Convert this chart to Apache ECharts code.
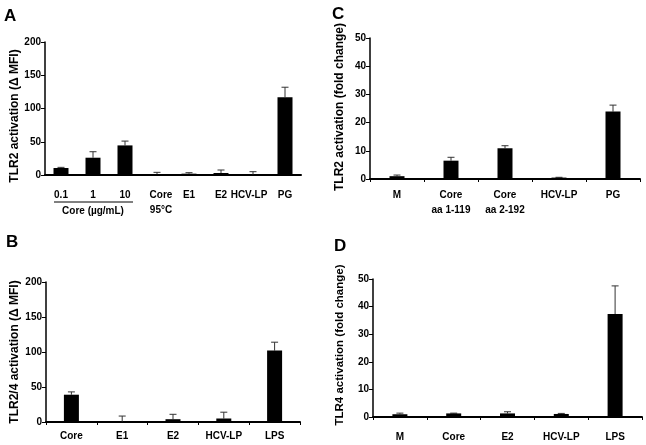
<!DOCTYPE html>
<html><head><meta charset="utf-8">
<script src="https://cdn.jsdelivr.net/npm/echarts@6/dist/echarts.min.js"></script>
<style>html,body{margin:0;padding:0;background:#fff}#c{width:646px;height:445px}</style>
</head><body><div id="c"></div>
<script>
// Panel A: TLR2 activation (Δ MFI)
const catsA = ['0.1', '1', '10', 'Core\n95°C', 'E1', 'E2', 'HCV-LP', 'PG'];
const valsA = [10.5, 26, 44.5, 1, 2, 3, 0.3, 117];
const errTopA = [11.5, 35, 51, 4, 3.5, 7.5, 5, 132];
// Panel B: TLR2/4 activation (Δ MFI)
const catsB = ['Core', 'E1', 'E2', 'HCV-LP', 'LPS'];
const valsB = [39, 0.3, 4, 5, 102];
const errTopB = [43, 8.5, 11, 14, 114];
// Panel C: TLR2 activation (fold change)
const catsC = ['M', 'Core\naa 1-119', 'Core\naa 2-192', 'HCV-LP', 'PG'];
const valsC = [1, 6.5, 10.9, 0.5, 23.9];
const errTopC = [1.4, 7.7, 11.8, 0.6, 26.2];
// Panel D: TLR4 activation (fold change)
const catsD = ['M', 'Core', 'E2', 'HCV-LP', 'LPS'];
const valsD = [1, 1.3, 1.3, 1.1, 37.3];
const errTopD = [1.4, 1.4, 1.9, 1.3, 47.5];
// y-axis ticks
const ticksAB = [0, 50, 100, 150, 200];
const ticksCD = [0, 10, 20, 30, 40, 50];

const FF = "'Liberation Sans', Arial, sans-serif";
const chart = echarts.init(document.getElementById('c'));

function errItem(params, api) {
  const x = api.value(0), lo = api.value(1), hi = api.value(2);
  const p0 = api.coord([x, lo]), p1 = api.coord([x, hi]);
  const w = 3.5;
  return { type: 'group', children: [
    { type: 'line', shape: { x1: p0[0], y1: p0[1], x2: p1[0], y2: p1[1] }, style: { stroke: '#333', lineWidth: 1 } },
    { type: 'line', shape: { x1: p1[0] - w, y1: p1[1], x2: p1[0] + w, y2: p1[1] }, style: { stroke: '#333', lineWidth: 1 } }
  ]};
}

const grids = [
  { left: 45, top: 42, width: 256, height: 133 },
  { left: 46, top: 282, width: 254, height: 140 },
  { left: 370, top: 38, width: 270, height: 141 },
  { left: 373, top: 279, width: 269, height: 138 }
];
const cats = [catsA, catsB, catsC, catsD];
const vals = [valsA, valsB, valsC, valsD];
const tops = [errTopA, errTopB, errTopC, errTopD];
const ticks = [ticksAB, ticksAB, ticksCD, ticksCD];
const margins = [13, 7, 8.5, 13];
const showXTick = [false, true, true, true];

const lblBase = { color: '#000', fontFamily: FF, fontWeight: 'bold', fontSize: 10, lineHeight: 15 };
const richA = {
  r: Object.assign({}, lblBase, { padding: [0, 0, 0, 8] }),
  l: Object.assign({}, lblBase, { padding: [0, 8, 0, 0] })
};
function fmtA(v) {
  if (v.indexOf('Core') === 0) return v.split('\n').map(s => '{r|' + s + '}').join('\n');
  if (v === 'HCV-LP') return '{l|' + v + '}';
  return v;
}

const xAxis = cats.map((c, i) => ({
  type: 'category', gridIndex: i, data: c,
  axisLine: { lineStyle: { color: '#000', width: 2 } },
  axisTick: { show: showXTick[i], length: 3, lineStyle: { color: '#000', width: 1 } },
  axisLabel: Object.assign({}, lblBase, { margin: margins[i], interval: 0 },
    i === 0 ? { formatter: fmtA, rich: richA } : {})
}));
const yAxis = ticks.map((t, i) => ({
  type: 'value', gridIndex: i, min: t[0], max: t[t.length - 1], interval: t[1] - t[0],
  axisLine: { show: true, lineStyle: { color: '#000', width: 1.5 } },
  axisTick: { show: true, length: 4, lineStyle: { color: '#000', width: 1 } },
  splitLine: { show: false },
  axisLabel: { color: '#000', fontFamily: FF, fontWeight: 'bold', fontSize: 10, margin: 4 }
}));
const series = [];
cats.forEach((c, i) => {
  series.push({ type: 'bar', xAxisIndex: i, yAxisIndex: i, data: vals[i], barWidth: 15,
    itemStyle: { color: '#000' }, z: 3, silent: true, animation: false });
  series.push({ type: 'custom', xAxisIndex: i, yAxisIndex: i, renderItem: errItem,
    data: c.map((_, k) => [k, vals[i][k], tops[i][k]]), z: 2, silent: true, animation: false });
});

function letter(t, x, y) {
  return { type: 'text', left: x, top: y, style: { text: t, font: 'bold 17px ' + FF, fill: '#000' } };
}
function yname(t, x, y, fs) {
  return { type: 'text', x: x, y: y, rotation: Math.PI / 2,
    style: { text: t, font: 'bold ' + fs + 'px ' + FF, fill: '#000', align: 'center', verticalAlign: 'middle' } };
}

chart.setOption({
  animation: false,
  grid: grids,
  xAxis: xAxis,
  yAxis: yAxis,
  series: series,
  graphic: [
    letter('A', 4, 8), letter('B', 6, 234), letter('C', 332, 6), letter('D', 334, 238),
    yname('TLR2 activation (Δ MFI)', 15, 116, 12),
    yname('TLR2/4 activation (Δ MFI)', 15, 352, 12),
    yname('TLR2 activation (fold change)', 340, 107, 12),
    yname('TLR4 activation (fold change)', 340, 345, 11.5),
    { type: 'line', shape: { x1: 54, y1: 202, x2: 133, y2: 202 }, style: { stroke: '#000', lineWidth: 1 } },
    { type: 'text', x: 93, y: 211, style: { text: 'Core (µg/mL)', font: 'bold 10px ' + FF, fill: '#000', align: 'center', verticalAlign: 'middle' } }
  ]
});
</script></body></html>
